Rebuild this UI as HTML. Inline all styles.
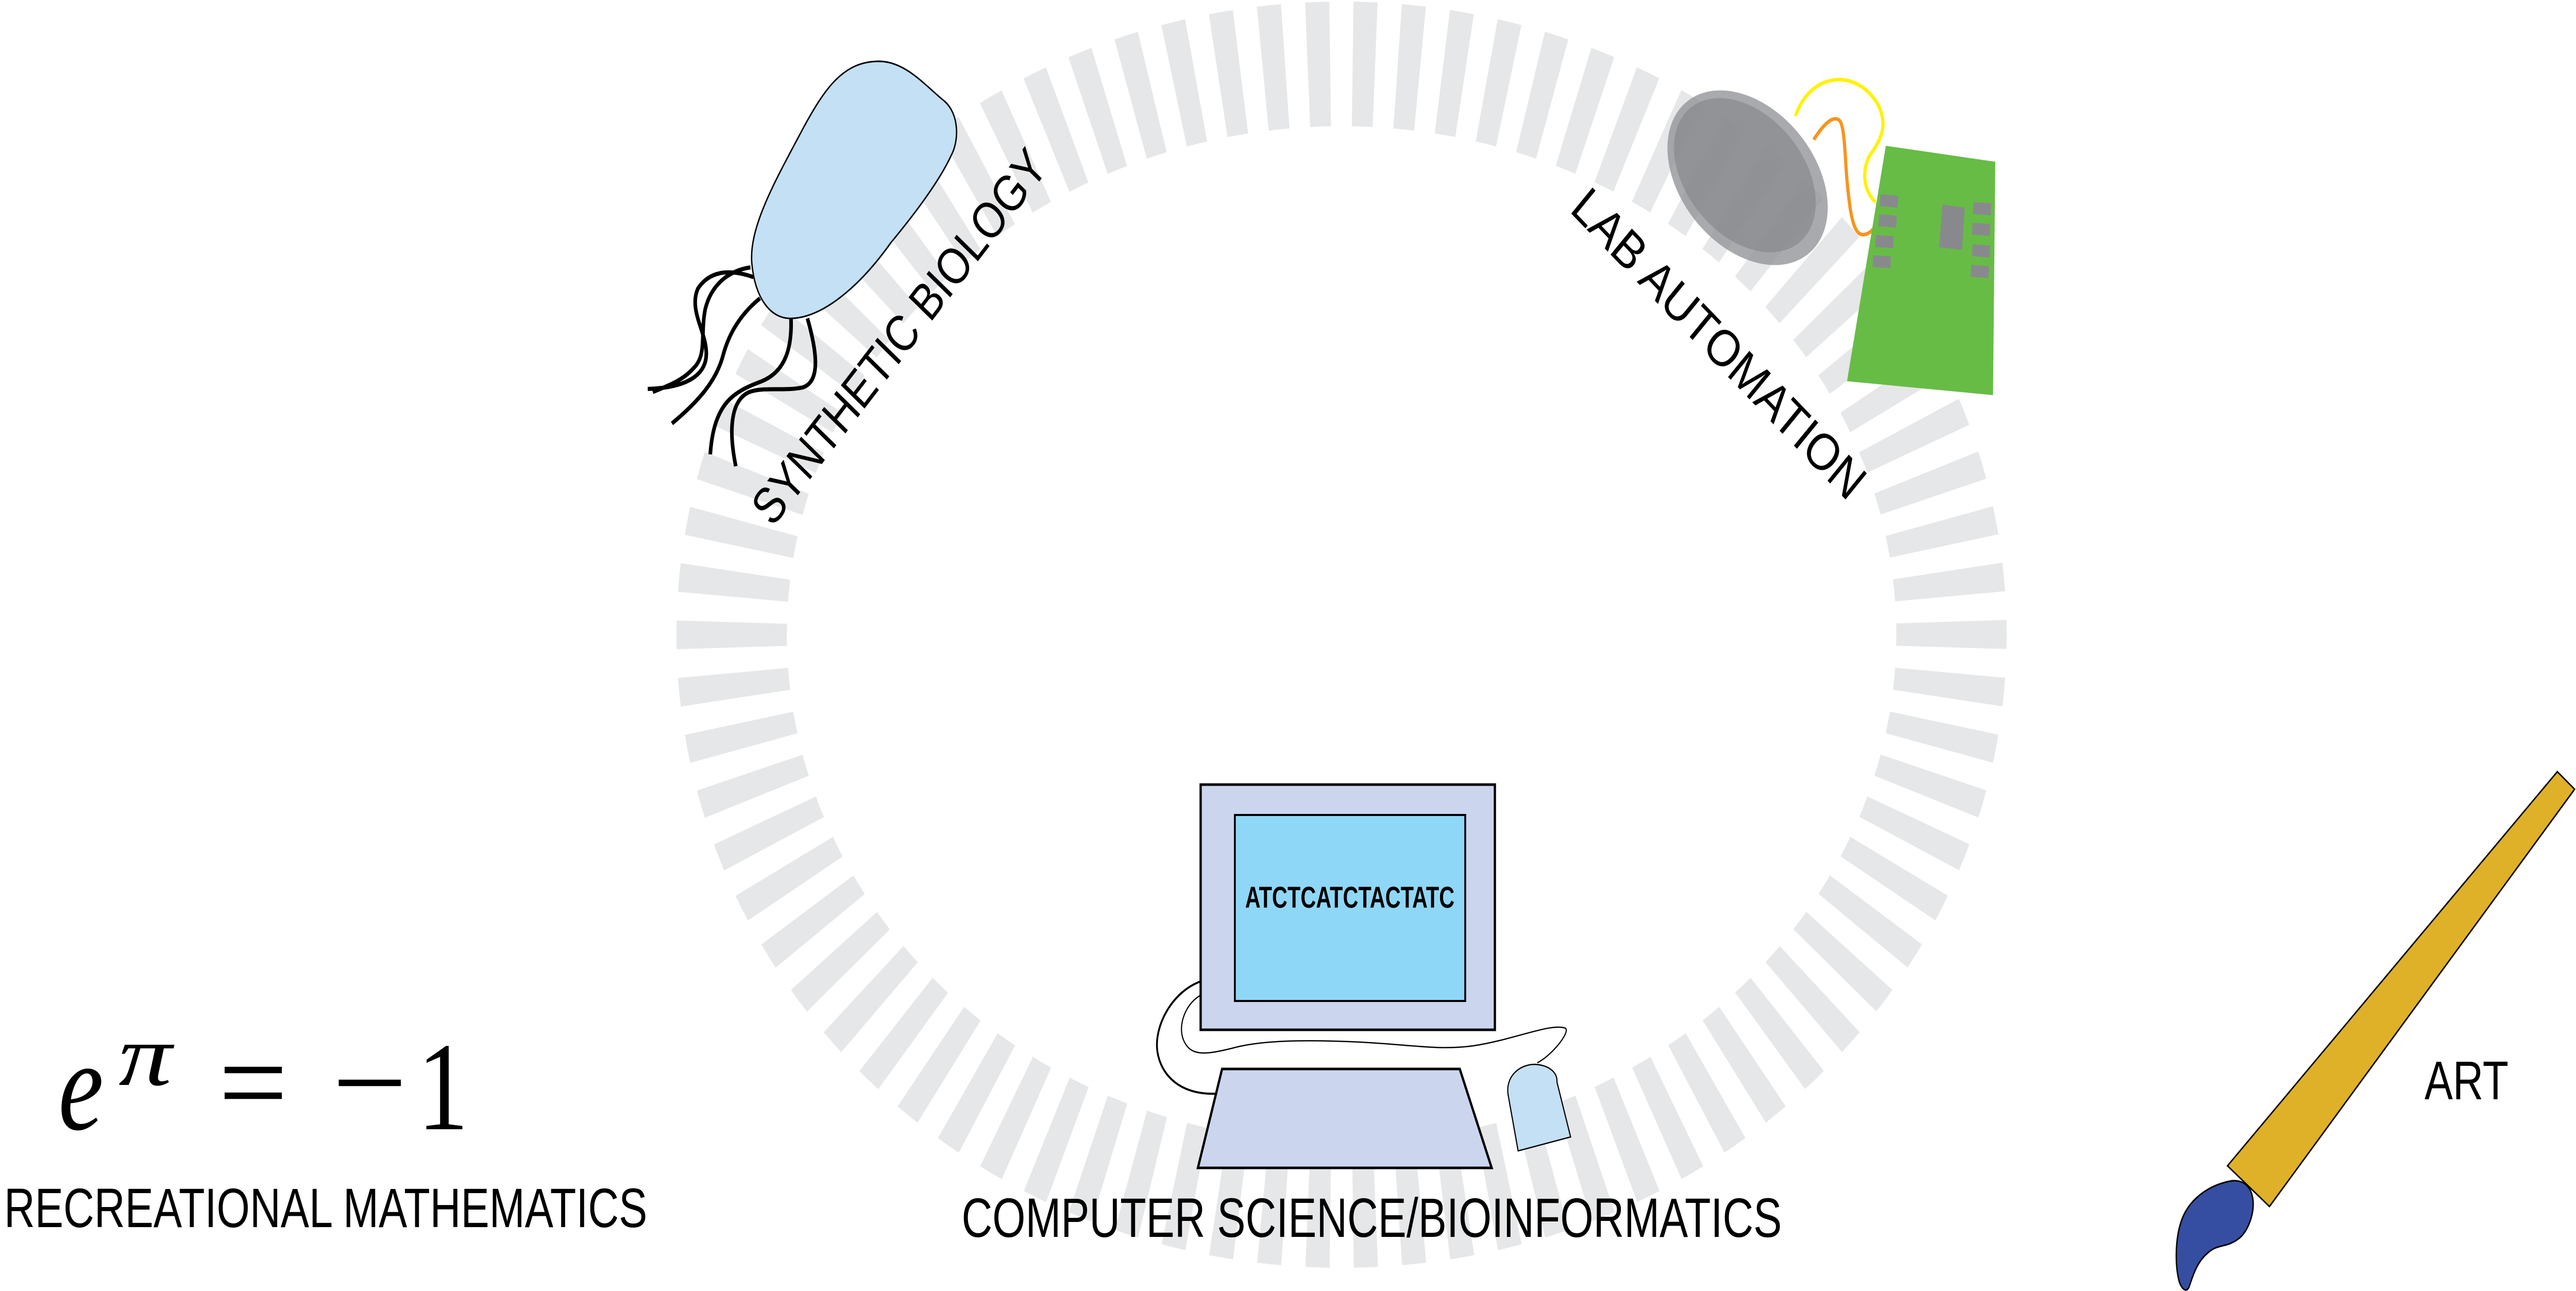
<!DOCTYPE html>
<html><head><meta charset="utf-8"><style>
html,body{margin:0;padding:0;background:#fff;width:100%;height:100%;overflow:hidden;}
svg{display:block;position:fixed;left:0;top:0;width:100vw;height:100vh;}
text{font-family:"Liberation Sans",sans-serif;fill:#000;}
</style></head><body>
<svg viewBox="0 0 5647 2506" preserveAspectRatio="none" xmlns="http://www.w3.org/2000/svg">
<rect width="5647" height="2506" fill="#fff"/>
<ellipse cx="2941" cy="1232" rx="1337" ry="1108" fill="none" stroke="#e6e7e8" stroke-width="242" pathLength="78" stroke-dasharray="0.5 0.5" stroke-dashoffset="0.25"/>

<g fill="none" stroke="#000" stroke-width="8" stroke-linecap="butt">
<path d="M1652,538 C1610,525 1560,520 1530,560 C1510,600 1545,640 1548,680 C1552,720 1520,752 1420,755"/>
<path d="M1645,519 C1600,525 1560,550 1546,600 C1535,650 1550,690 1520,715 C1495,740 1460,750 1431,761"/>
<path d="M1666,579 C1630,605 1600,640 1585,690 C1570,740 1530,780 1473,822"/>
<path d="M1734,618 C1736,670 1725,720 1670,740 C1610,760 1565,780 1557,882"/>
<path d="M1770,618 C1790,680 1800,740 1760,752 C1720,760 1670,750 1640,762 C1600,780 1598,840 1613,905"/>
</g>
<path d="M1925,119 C1985,118 2030,168 2070,196 C2104,222 2102,275 2085,302 C2060,350 2010,410 1953,471 C1880,562 1800,616 1736,618 C1690,620 1655,580 1648,510 C1642,440 1700,350 1760,250 C1810,168 1850,120 1925,119 Z" fill="#c3e0f4" stroke="#000" stroke-width="3"/>
<text x="1997" y="676" font-size="100" text-anchor="middle" textLength="925" lengthAdjust="spacingAndGlyphs" transform="rotate(-49 1997 676)">SYNTHETIC BIOLOGY</text>

<ellipse cx="3831" cy="345" rx="200" ry="140" transform="rotate(42 3831 345)" fill="#939598" fill-opacity="0.8"/>
<ellipse cx="3825" cy="340" rx="178" ry="122" transform="rotate(42 3825 340)" fill="#8a8b8f" fill-opacity="0.75"/>
<path d="M3936,225 C3950,190 3975,165 4010,157 C4050,148 4090,165 4115,200 C4140,240 4125,270 4100,300 C4080,330 4085,370 4111,392" fill="none" stroke="#fff200" stroke-width="7"/>
<path d="M3976,271 C3995,245 4015,225 4030,232 C4043,238 4044,290 4048,341 C4054,400 4060,450 4080,455 C4095,458 4108,445 4115,434" fill="none" stroke="#f7941d" stroke-width="7"/>
<polygon points="4134,283 4374,314 4369,767 4049,740" fill="#67bc46"/>
<g fill="#88898d">
<rect x="-19.5" y="-11.5" width="39" height="23" transform="translate(4141,390) rotate(4)"/>
<rect x="-19.5" y="-11.5" width="39" height="23" transform="translate(4138,429) rotate(4)"/>
<rect x="-19.5" y="-11.5" width="39" height="23" transform="translate(4131,469) rotate(4)"/>
<rect x="-19.5" y="-11.5" width="39" height="23" transform="translate(4125,508) rotate(4)"/>
<rect x="-19.5" y="-11.5" width="39" height="23" transform="translate(4345,405) rotate(4)"/>
<rect x="-19.5" y="-11.5" width="39" height="23" transform="translate(4343,445) rotate(4)"/>
<rect x="-19.5" y="-11.5" width="39" height="23" transform="translate(4343,487) rotate(4)"/>
<rect x="-19.5" y="-11.5" width="39" height="23" transform="translate(4340,527) rotate(4)"/>
<polygon points="4258,397 4307,403 4301,485 4251,480"/>
</g>
<text x="3745" y="692" font-size="100" text-anchor="middle" textLength="834" lengthAdjust="spacingAndGlyphs" transform="rotate(42.7 3745 692)">LAB AUTOMATION</text>

<path d="M2632,1905 C2570,1925 2530,1990 2537,2040 C2545,2090 2590,2125 2665,2123" fill="none" stroke="#000" stroke-width="4"/>
<path d="M2636,1930 C2600,1945 2580,1990 2595,2020 C2610,2050 2640,2048 2700,2035 C2760,2020 2850,2018 2960,2022 C3080,2026 3150,2040 3230,2030 C3320,2018 3400,1985 3432,1996 C3442,2005 3400,2050 3370,2063" fill="none" stroke="#000" stroke-width="2.5"/>
<rect x="2632" y="1523" width="645" height="476" fill="#cbd5ed" stroke="#000" stroke-width="5"/>
<rect x="2707" y="1582" width="505" height="361" fill="#8fd7f6" stroke="#000" stroke-width="4"/>
<text x="2959" y="1762" font-size="58" font-weight="bold" text-anchor="middle" textLength="459" lengthAdjust="spacingAndGlyphs">ATCTCATCTACTATC</text>
<polygon points="2679,2075 3200,2075 3270,2267 2626,2267" fill="#cbd6ee" stroke="#000" stroke-width="5"/>
<path d="M3306,2125 C3300,2090 3330,2066 3365,2066 C3400,2068 3415,2085 3413,2100 L3443,2207 L3328,2234 Z" fill="#c3e0f4" stroke="#000" stroke-width="2.5"/>
<text x="3007" y="2401" font-size="108" text-anchor="middle" textLength="1798" lengthAdjust="spacingAndGlyphs">COMPUTER SCIENCE/BIOINFORMATICS</text>

<text x="128" y="2192" font-style="italic" font-size="250" textLength="99" lengthAdjust="spacingAndGlyphs" style="font-family:'Liberation Serif',serif">e</text>
<text x="260" y="2106" font-style="italic" font-size="170" textLength="117" lengthAdjust="spacingAndGlyphs" style="font-family:'Liberation Serif',serif">π</text>
<text x="479" y="2185" font-size="250" textLength="152" lengthAdjust="spacingAndGlyphs" style="font-family:'Liberation Serif',serif">=</text>
<text x="728" y="2185" font-size="250" textLength="165" lengthAdjust="spacingAndGlyphs" style="font-family:'Liberation Serif',serif">−</text>
<text x="915" y="2192" font-size="245" textLength="112" lengthAdjust="spacingAndGlyphs" style="font-family:'Liberation Serif',serif">1</text>
<text x="9" y="2382" font-size="108" textLength="1410" lengthAdjust="spacingAndGlyphs">RECREATIONAL MATHEMATICS</text>

<polygon points="5606,1498 5644,1532 4975,2342 4883,2263" fill="#dfb128" stroke="#000" stroke-width="3"/>
<path d="M4893,2292 C4920,2290 4936,2305 4939,2330 C4942,2360 4925,2395 4905,2406 C4880,2422 4860,2415 4840,2432 C4815,2450 4806,2480 4800,2495 C4795,2510 4785,2505 4778,2490 C4768,2460 4768,2410 4780,2375 C4795,2330 4840,2300 4893,2292 Z" fill="#364ea1" stroke="#000" stroke-width="3"/>
<text x="5315" y="2134" font-size="106" textLength="184" lengthAdjust="spacingAndGlyphs">ART</text>
</svg>
</body></html>
